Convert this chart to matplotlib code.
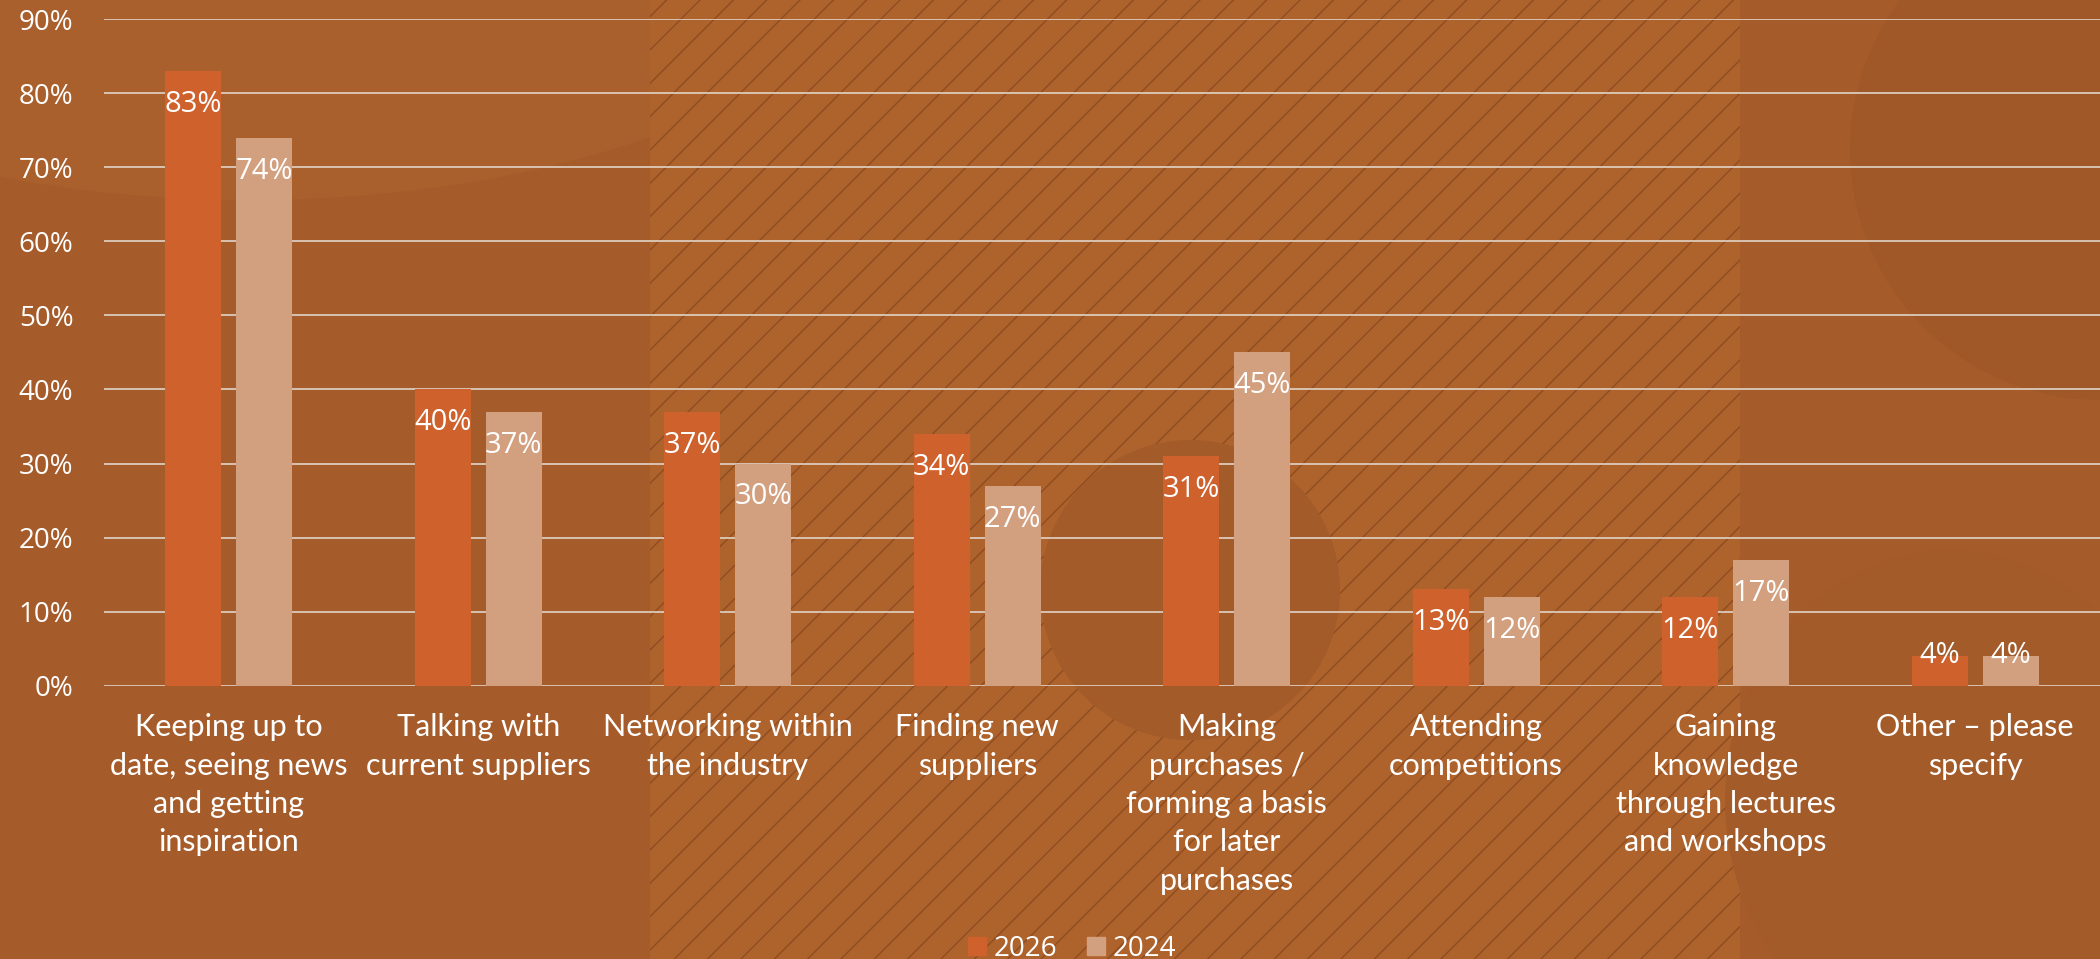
import matplotlib.pyplot as plt
from matplotlib.patches import Rectangle, Ellipse
from matplotlib.lines import Line2D
import numpy as np

# Data
categories = [
    'Keeping up to\ndate, seeing news\nand getting\ninspiration',
    'Talking with\ncurrent suppliers',
    'Networking within\nthe industry',
    'Finding new\nsuppliers',
    'Making\npurchases /\nforming a basis\nfor later\npurchases',
    'Attending\ncompetitions',
    'Gaining\nknowledge\nthrough lectures\nand workshops',
    'Other \u2013 please\nspecify',
]
values_2026 = [83, 40, 37, 34, 31, 13, 12, 4]
values_2024 = [74, 37, 30, 27, 45, 12, 17, 4]
series_names = ['2026', '2024']
yticks = [0, 10, 20, 30, 40, 50, 60, 70, 80, 90]

bg = '#A65C2A'
c2026 = '#CF612C'
c2024 = '#D3A07F'
plt.rcParams['font.family'] = ['Open Sans', 'DejaVu Sans']
plt.rcParams['hatch.linewidth'] = 1.0

fig = plt.figure(figsize=(21, 9.59), dpi=100, facecolor=bg)

# Decorative background (figure coords)
W, H = 2100, 959
def fx(x): return x / W
def fy(y): return 1 - y / H
fig.patches.append(Ellipse((fx(250), fy(-150)), fx(1400), 700 / H, transform=fig.transFigure,
                           facecolor='#AA602D', edgecolor='none', zorder=-5))
fig.patches.append(Rectangle((fx(650), 0), fx(1090), 1, transform=fig.transFigure,
                             facecolor='#AE632C', edgecolor='#8E4C22', linewidth=0,
                             hatch='/', zorder=-4))
fig.patches.append(Ellipse((fx(1190), fy(590)), fx(300), 300 / H, transform=fig.transFigure,
                           facecolor='#A35B29', edgecolor='none', zorder=-3))
fig.patches.append(Ellipse((fx(2100), fy(150)), fx(500), 500 / H, transform=fig.transFigure,
                           facecolor='#A05828', edgecolor='none', zorder=-3))
fig.patches.append(Ellipse((fx(1950), fy(800)), fx(450), 500 / H, transform=fig.transFigure,
                           facecolor='#A35B29', edgecolor='none', zorder=-3))

ax = fig.add_axes([104 / W, 273.5 / H, 1 - 104 / W, (685.5 - 19.5) / H])
ax.set_facecolor('none')

x = np.arange(len(categories))
bw = 0.224
off = 0.142
b1 = ax.bar(x - off, values_2026, bw, color=c2026, zorder=3, label=series_names[0])
b2 = ax.bar(x + off, values_2024, bw, color=c2024, zorder=3, label=series_names[1])

for bars, vals in [(b1, values_2026), (b2, values_2024)]:
    for rect, v in zip(bars, vals):
        dy = -24 if v >= 10 else 0
        ax.annotate(f'{v}%', (rect.get_x() + rect.get_width() / 2, v),
                    xytext=(0, dy), textcoords='offset points',
                    ha='center', va='center', color='white', fontsize=21, zorder=4)

ax.set_xlim(-0.5, len(categories) - 0.5)
ax.set_ylim(0, 90)
ax.set_yticks(yticks)
ax.set_yticklabels([f'{t}%' for t in yticks])
ax.yaxis.grid(True, color='#E2D3C8', linewidth=1.2, zorder=0)
ax.set_axisbelow(True)
ax.set_xticks(x)
ax.set_xticklabels(categories, linespacing=1.45, va='top', family=['Lato', 'DejaVu Sans'],
                   fontsize=22)
ax.tick_params(axis='y', length=0, colors='white', labelsize=20, pad=22)
ax.tick_params(axis='x', length=0, colors='white', pad=20)
for s in ax.spines.values():
    s.set_visible(False)

handles = [Line2D([], [], marker='s', linestyle='none', markersize=13, color=c2026),
           Line2D([], [], marker='s', linestyle='none', markersize=13, color=c2024)]
leg = fig.legend(handles, series_names, loc='lower center', bbox_to_anchor=(0.51, -0.03),
                 ncol=2, frameon=False, fontsize=20, labelcolor='white',
                 handletextpad=0.2, columnspacing=1.0, handlelength=0.8)

fig.savefig('out.png', dpi=100, facecolor=bg)
